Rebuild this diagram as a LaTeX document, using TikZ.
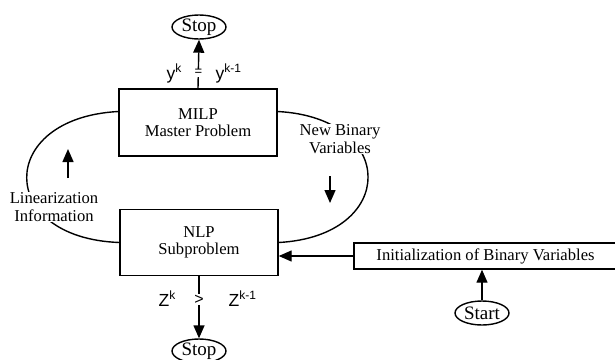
\documentclass[tikz,border=0pt]{standalone}
\usepackage{fontspec}
\setmainfont{Liberation Serif}
\newfontfamily\lblfont{Liberation Sans}
\usetikzlibrary{shapes,arrows.meta}
\newcommand{\upidx}[1]{\raisebox{7pt}{\fontsize{12}{13}\selectfont #1}}

\begin{document}
\begin{tikzpicture}[x=1pt,y=-1pt,line width=1.4pt,
  >={Triangle[length=13pt,width=11pt]},
  every node/.append style={font=\fontsize{16.6}{17.5}\selectfont}]
  \tikzstyle{block} = [draw,rectangle,align=center,inner sep=0pt]
  \tikzstyle{term} = [draw,ellipse,inner sep=0pt,minimum width=54pt,minimum height=24pt,
    font=\fontsize{19}{20}\selectfont]
  \tikzstyle{word} = [align=center,fill=white,inner sep=1pt]
  \tikzstyle{sym} = [font=\lblfont\fontsize{17.5}{18}\selectfont,inner sep=0pt]
  \useasboundingbox (0,0) rectangle (615,359);
  \node (master) [block,minimum width=158pt,minimum height=67pt] at (198,122.5) {MILP\\Master Problem};
  \node (sub) [block,minimum width=158pt,minimum height=66pt] at (199,242.5) {NLP\\Subproblem};
  \node (init) [block,minimum width=263pt,minimum height=26pt] at (485.5,256) {Initialization of Binary Variables};
  \node (stop1) [term] at (199,27) {Stop};
  \node (stop2) [term] at (199,351) {Stop};
  \node (start) [term] at (482,313) {Start};
  % loop between master and subproblem
  \draw ([yshift=11pt]master.west) .. controls (-4,118) and (-4,238) .. (sub.west);
  \draw ([yshift=11pt]master.east) .. controls (398,118) and (398,236) .. (sub.east);
  \node (lin) [word] at (54,207) {Linearization\\Information};
  \node (newbin) [word] at (340,139) {New Binary\\Variables};
  \coordinate (linA) at (68,178);
  \coordinate (linB) at (68,149);
  \coordinate (binA) at (330,176);
  \coordinate (binB) at (330,203);
  \draw[->] (linA) -- (linB);
  \draw[->] (binA) -- (binB);
  % termination tests
  \draw[->] (master.north) -- node[sym,fill=white,inner sep=1pt,pos=0.32,font=\lblfont\fontsize{13}{14}\selectfont] {=} (stop1.south);
  \node (yk) [sym,anchor=base west] at (166,79) {y\upidx{k}};
  \node (yk1) [sym,anchor=base west] at (215,79) {y\upidx{k-1}};
  \draw[->] (sub.south) -- node[sym,fill=white,inner sep=1pt,pos=0.38,font=\lblfont\fontsize{16}{17}\selectfont] {>} (stop2.north);
  \node (zk) [sym,anchor=base west] at (158,306) {Z\upidx{k}};
  \node (zk1) [sym,anchor=base west] at (228,306) {Z\upidx{k-1}};
  % start
  \draw[->] (init.west) -- (init.west -| sub.east);
  \draw[->] (start) -- (start |- init.south);
\end{tikzpicture}
\end{document}
